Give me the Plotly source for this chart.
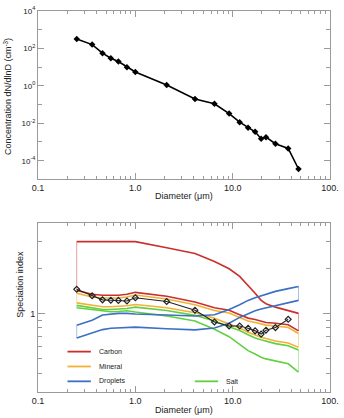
import plotly.graph_objects as go
import numpy as np

# ---------------- data ----------------
diam = [0.25, 0.36, 0.46, 0.56, 0.67, 0.82, 1.0, 2.1, 4.1, 6.5, 9.2, 11.8,
        14.4, 17.0, 19.6, 22.0, 27.5, 37.2, 47.5]

conc = [320, 160, 56, 30, 20, 10, 5.5, 1.1, 0.2, 0.11, 0.033, 0.0115,
        0.0058, 0.0035, 0.0015, 0.0018, 0.00081, 0.00045, 3.6e-5]

# speciation index of the observed population (no value at the last bin)
spec_obs = [1.445, 1.31, 1.23, 1.224, 1.22, 1.21, 1.27, 1.2, 1.05, 0.877,
            0.825, 0.825, 0.797, 0.765, 0.728, 0.773, 0.804, 0.913]

carbon_hi = [3.0, 3.0, 3.0, 3.0, 3.0, 3.0, 3.0, 2.73, 2.5, 2.21, 1.98, 1.76,
             1.54, 1.36, 1.22, 1.16, 1.10, 1.05, 1.0]
carbon_lo = [1.42, 1.34, 1.32, 1.32, 1.32, 1.34, 1.38, 1.30, 1.19, 1.09, 1.05,
             0.98, 0.93, 0.91, 0.89, 0.87, 0.86, 0.84, 0.765]
mineral_hi = [1.36, 1.285, 1.265, 1.265, 1.265, 1.285, 1.325, 1.245, 1.14,
              1.045, 1.005, 0.94, 0.89, 0.87, 0.85, 0.835, 0.825, 0.805, 0.735]
mineral_lo = [1.175, 1.13, 1.106, 1.106, 1.11, 1.123, 1.146, 1.09, 1.01, 0.927,
              0.85, 0.80, 0.75, 0.715, 0.695, 0.68, 0.655, 0.635, 0.594]
salt_hi = [1.13, 1.085, 1.062, 1.062, 1.066, 1.078, 1.10, 1.046, 0.97, 0.89,
           0.816, 0.768, 0.72, 0.686, 0.667, 0.653, 0.629, 0.61, 0.57]
salt_lo = [1.09, 1.057, 1.036, 1.025, 1.03, 1.04, 1.02, 0.96, 0.89, 0.785,
           0.70, 0.625, 0.565, 0.537, 0.511, 0.498, 0.481, 0.462, 0.407]
drop_hi = [0.834, 0.90, 0.975, 0.99, 1.0, 1.0, 0.99, 0.975, 0.96, 0.98, 1.06,
           1.14, 1.22, 1.27, 1.31, 1.34, 1.40, 1.46, 1.51]
drop_lo = [0.685, 0.74, 0.78, 0.797, 0.80, 0.805, 0.81, 0.79, 0.777, 0.80, 0.86,
           0.94, 1.0, 1.04, 1.07, 1.09, 1.13, 1.18, 1.22]

species = [
    ("Carbon", "#c9302c", "#e0a0a0", carbon_hi, carbon_lo),
    ("Mineral", "#f2b134", "#f6dca0", mineral_hi, mineral_lo),
    ("Salt", "#62d040", "#b8eaa8", salt_hi, salt_lo),
    ("Droplets", "#3b70c2", "#a8c0e6", drop_hi, drop_lo),
]

x_ticks = [0.1, 1, 10, 100]
x_ticktext = ["0.1", "1.0", "10.0", "100."]

FONT = "Liberation Sans"
AX = "#9a9a9a"

fig = go.Figure()

# ---------------- top panel ----------------
fig.add_trace(go.Scatter(
    x=diam, y=conc, mode="lines+markers", xaxis="x", yaxis="y",
    line=dict(color="black", width=1.6),
    marker=dict(symbol="diamond", size=5, color="black"),
    showlegend=False))

# ---------------- bottom panel ----------------
for name, col, light, hi, lo in species:
    # thin end closures
    for i in (0, -1):
        fig.add_trace(go.Scatter(
            x=[diam[i], diam[i]], y=[hi[i], lo[i]], mode="lines",
            xaxis="x2", yaxis="y2", line=dict(color=light, width=1),
            showlegend=False, hoverinfo="skip"))
for name, col, light, hi, lo in species:
    for arr in (lo, hi):
        fig.add_trace(go.Scatter(
            x=diam, y=arr, mode="lines", xaxis="x2", yaxis="y2",
            line=dict(color=col, width=1.6), showlegend=False))

fig.add_trace(go.Scatter(
    x=diam[:len(spec_obs)], y=spec_obs, mode="lines+markers",
    xaxis="x2", yaxis="y2",
    line=dict(color="#222222", width=1.1),
    marker=dict(symbol="diamond-open", size=4.5, color="#222222",
                line=dict(width=1.2)),
    showlegend=False))

minor_x = [v * m for v in (0.1, 1, 10) for m in range(2, 10)]

def xaxis(anchor):
    return dict(type="log", range=[-1, 2], anchor=anchor, domain=[0, 1],
                showline=True, linecolor=AX, linewidth=1, mirror="ticks",
                ticks="inside", ticklen=6, tickcolor=AX, tickwidth=1,
                tickmode="array", tickvals=x_ticks, ticktext=x_ticktext,
                tickfont=dict(family=FONT, size=9, color="#222"),
                minor=dict(tickmode="array", tickvals=minor_x, ticks="inside",
                           ticklen=3, tickcolor=AX, tickwidth=1),
                showgrid=False, zeroline=False)

fig.update_layout(
    width=344, height=418,
    margin=dict(l=38, r=10, t=5, b=26),
    paper_bgcolor="white", plot_bgcolor="white",
    font=dict(family=FONT, size=9, color="#222"),
    xaxis=xaxis("y"),
    xaxis2=xaxis("y2"),
    yaxis=dict(type="log", range=[-5, 4], domain=[0.558, 1.0], anchor="x",
               showline=True, linecolor=AX, linewidth=1, mirror="ticks",
               ticks="inside", ticklen=6, tickcolor=AX,
               tickmode="array", tickvals=[1e-4, 1e-2, 1, 1e2, 1e4],
               ticktext=["10<sup>-4</sup>", "10<sup>-2</sup>", "10<sup>0</sup>",
                         "10<sup>2</sup>", "10<sup>4</sup>"],
               tickfont=dict(family=FONT, size=8, color="#222"),
               minor=dict(tickmode="array",
                          tickvals=[1e-5, 1e-3, 1e-1, 10, 1e3],
                          ticks="inside", ticklen=4, tickcolor=AX),
               showgrid=False, zeroline=False),
    yaxis2=dict(type="log", range=[np.log10(0.3), np.log10(4)],
                domain=[0.0, 0.444], anchor="x2",
                showline=True, linecolor=AX, linewidth=1, mirror="ticks",
                ticks="inside", ticklen=7, tickcolor=AX,
                tickmode="array", tickvals=[1], ticktext=["1"],
                tickfont=dict(family=FONT, size=9, color="#222"),
                minor=dict(tickmode="array",
                           tickvals=[0.4, 0.5, 0.6, 0.7, 0.8, 0.9, 2, 3],
                           ticks="inside", ticklen=4, tickcolor=AX),
                showgrid=False, zeroline=False),
)

# axis titles
ann = [
    dict(text="Diameter (\u03bcm)", x=0.5, y=0.558, xref="paper", yref="paper",
         yshift=-17, yanchor="middle", showarrow=False, font=dict(size=9)),
    dict(text="Diameter (\u03bcm)", x=0.5, y=0.0, xref="paper", yref="paper",
         yshift=-18, yanchor="middle", showarrow=False, font=dict(size=9)),
    dict(text="Concentration dN/dlnD (cm<sup>-3</sup>)", x=-0.105, y=0.775,
         xref="paper", yref="paper", textangle=-90, showarrow=False,
         xanchor="center", yanchor="middle", font=dict(size=9)),
    dict(text="Speciation index", x=-0.06, y=0.283,
         xref="paper", yref="paper", textangle=-90, showarrow=False,
         xanchor="center", yanchor="middle", font=dict(size=9)),
]
# in-plot legend
leg = [("Carbon", "#c9302c", 0.101, 0.106),
       ("Mineral", "#f2b134", 0.101, 0.067),
       ("Droplets", "#3b70c2", 0.101, 0.028),
       ("Salt", "#62d040", 0.537, 0.028)]
shapes = []
for name, col, x0, yy in leg:
    shapes.append(dict(type="line", xref="paper", yref="paper",
                       x0=x0, x1=x0 + 0.08, y0=yy, y1=yy,
                       line=dict(color=col, width=1.8)))
    ann.append(dict(text=name, x=x0 + 0.1, y=yy, xref="paper", yref="paper",
                    xanchor="left", yanchor="middle", showarrow=False,
                    font=dict(size=7)))
fig.update_layout(annotations=ann, shapes=shapes)

fig.write_html("out.html")
